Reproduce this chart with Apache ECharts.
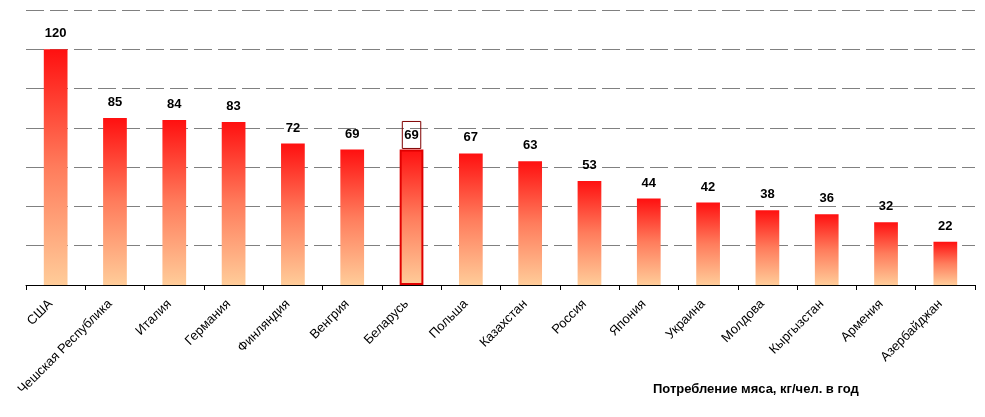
<!DOCTYPE html>
<html><head><meta charset="utf-8">
<script src="https://cdn.jsdelivr.net/npm/echarts@6/dist/echarts.min.js"></script>
<style>html,body{margin:0;padding:0;background:#fff}#c{width:985px;height:417px}</style>
</head><body><div id="c"></div>
<script>
const categories = ["США","Чешская Республика","Италия","Германия","Финляндия","Венгрия","Беларусь","Польша","Казахстан","Россия","Япония","Украина","Молдова","Кыргызстан","Армения","Азербайджан"];
const values = [120,85,84,83,72,69,69,67,63,53,44,42,38,36,32,22];
const highlight = "Беларусь";
const axisTitle = "Потребление мяса, кг/чел. в год";

const grad = new echarts.graphic.LinearGradient(0,0,0,1,[
  {offset:0,color:'#ff1010'},
  {offset:0.5,color:'#ff7c5c'},
  {offset:1,color:'#ffcc99'}
]);
const data = values.map((v,i)=>{
  const item = {value:v};
  if (categories[i]===highlight){
    item.itemStyle = {borderColor:'#e00000',borderWidth:2};
    item.label = {borderColor:'#800000',borderWidth:1,padding:[7,2,7,2],distance:1};
  }
  return item;
});
const chart = echarts.init(document.getElementById('c'));
chart.setOption({
  animation:false,
  grid:{left:26,right:10,top:10,bottom:132,containLabel:false},
  title:{text:axisTitle,left:648,top:378,textStyle:{fontFamily:'Liberation Sans',fontSize:13,fontWeight:'bold',color:'#000'}},
  xAxis:{type:'category',data:categories,
    axisLine:{lineStyle:{color:'#000',width:1}},
    axisTick:{show:true,length:5,lineStyle:{color:'#000'}},
    axisLabel:{rotate:45,interval:0,margin:12,padding:[0,7,0,0],fontFamily:'Liberation Sans',fontSize:13,color:'#000'}},
  yAxis:{type:'value',min:0,max:140,interval:20,
    axisLine:{show:false},axisTick:{show:false},axisLabel:{show:false},
    splitLine:{lineStyle:{color:'#808080',width:1,type:[18,6]}}},
  series:[{type:'bar',data:data,barWidth:'40%',
    itemStyle:{color:grad},
    label:{show:true,position:'top',distance:9,fontFamily:'Liberation Sans',fontSize:13,fontWeight:'bold',color:'#000'}}]
});
</script></body></html>
